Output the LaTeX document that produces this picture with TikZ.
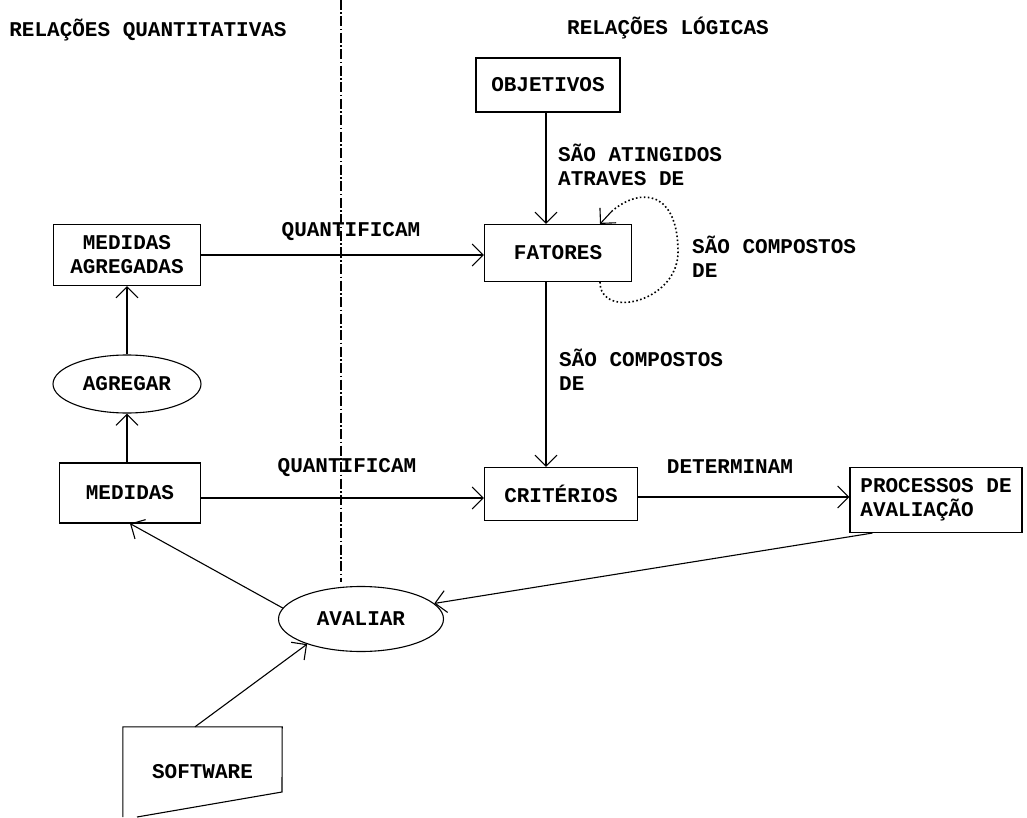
\documentclass[tikz,border=0pt]{standalone}
\usepackage{fontspec}
\setmainfont{Liberation Mono}
\usetikzlibrary{arrows.meta,shapes.geometric}
\begin{document}
\begin{tikzpicture}[x=1pt,y=-1pt,
    box/.style={draw, line width=1.1pt, inner sep=2pt},
    oval/.style={draw, ellipse, line width=1.1pt, inner sep=0pt},
    arr/.style={-{Straight Barb[length=11pt,width=22pt,line width=1.1pt]}, line width=1.1pt},
    lbl/.style={align=left, inner sep=0pt},
    every node/.style={font=\fontsize{21}{24}\selectfont\bfseries}]

    \useasboundingbox (0,0) rectangle (1027,818);

    % divider
    \draw[line width=1.2pt, dash pattern=on 10pt off 2.5pt on 1.5pt off 2.5pt] (341,0) -- (341,582);

    \node (tquant) at (148,30) {RELAÇÕES QUANTITATIVAS};
    \node (tlog) at (668,28) {RELAÇÕES LÓGICAS};

    % logic side
    \node[box, minimum width=144pt, minimum height=54pt] (objetivos) at (548,85) {OBJETIVOS};
    \node[box, minimum width=147pt, minimum height=57pt] (fatores) at (558,253) {FATORES};
    \node[box, minimum width=153pt, minimum height=53pt] (criterios) at (561,494) {CRITÉRIOS};
    \node[box, minimum width=172pt, minimum height=65pt, align=left] (processos) at (936,500) {PROCESSOS DE\\AVALIAÇÃO};

    % quant side
    \node[box, minimum width=147pt, minimum height=61pt, align=center] (medagr) at (127,255) {MEDIDAS\\AGREGADAS};
    \node[oval, minimum width=148pt, minimum height=58pt] (agregar) at (127,384) {AGREGAR};
    \node[box, minimum width=141pt, minimum height=60pt] (medidas) at (130,493) {MEDIDAS};
    \node[oval, minimum width=165pt, minimum height=65pt] (avaliar) at (361,619) {AVALIAR};
    \node[minimum width=159pt, minimum height=90pt, inner sep=0pt] (software) at (202.5,772) {SOFTWARE};
    \draw[line width=1.1pt] (137,817) -- (282,792) -- (software.north east) -- (software.north west) -- (software.south west);

    % arrows
    \coordinate (xa) at (546,0);
    \coordinate (ya) at (0,498);
    \coordinate (yb) at (0,497);
    \coordinate (loopend) at (612,211);
    \draw[arr] (objetivos.south -| xa) -- (fatores.north -| xa);
    \draw[arr] (fatores.south -| xa) -- (criterios.north -| xa);
    \draw[line width=1.6pt, dash pattern=on 1.6pt off 2.4pt] ([xshift=42pt]fatores.south) .. controls +(0,38) and +(0,50) .. (678,252)
        .. controls +(0,-60) and +(30,-25) .. (loopend);
    \draw[arr] (loopend) -- ([xshift=42pt]fatores.north);
    \draw[arr] (medagr.east) -- (medagr.east -| fatores.west);
    \draw[arr] (medidas.east |- ya) -- (criterios.west |- ya);
    \draw[arr] (criterios.east |- yb) -- (processos.west |- yb);
    \draw[arr] (medidas.north -| agregar.south) -- (agregar.south);
    \draw[arr] (agregar.north) -- (medagr.south);
    \draw[arr] ([xshift=23pt]processos.south west) -- (avaliar.12);
    \draw[arr] (avaliar.172) -- (medidas.south);
    \draw[arr] ([xshift=-7.5pt]software.north) -- (avaliar.205);

    % labels
    \node[lbl, anchor=west] (lating) at (558,165) {SÃO ATINGIDOS\\ATRAVES DE};
    \node[lbl, anchor=west] (lcomploop) at (692,257) {SÃO COMPOSTOS\\DE};
    \node[lbl, anchor=west] (lcomp) at (559,370) {SÃO COMPOSTOS\\DE};
    \node (lquant1) at (351,232) {QUANTIFICAM};
    \node (lquant2) at (347,468) {QUANTIFICAM};
    \node (ldet) at (730,467) {DETERMINAM};

\end{tikzpicture}
\end{document}
